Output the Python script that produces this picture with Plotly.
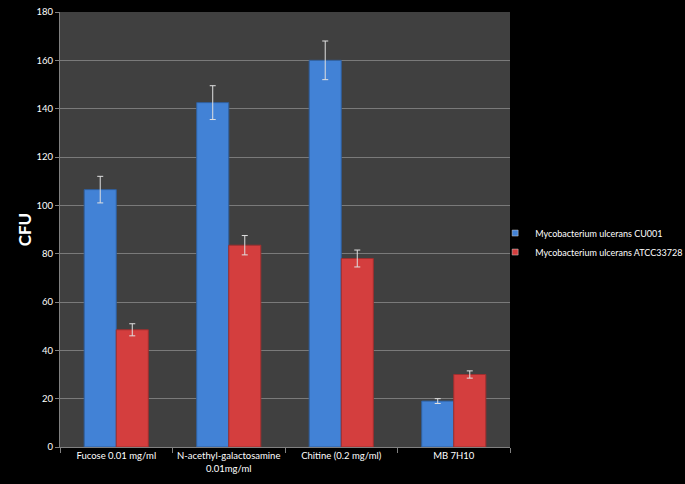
import plotly.graph_objects as go

categories = ["Fucose 0.01 mg/ml", "N-acethyl-galactosamine<br>0.01mg/ml", "Chitine (0.2 mg/ml)", "MB 7H10"]
series_names = ["Mycobacterium ulcerans CU001", "Mycobacterium ulcerans ATCC33728"]
cu001 = [106.5, 142.5, 160, 19]
cu001_err = [5.5, 7, 8, 1]
atcc = [48.5, 83.5, 78, 30]
atcc_err = [2.5, 4, 3.5, 1.5]
yticks = [0, 20, 40, 60, 80, 100, 120, 140, 160, 180]

font = "Lato, Open Sans, sans-serif"
colors = ["#4282d6", "#d43e3e"]
edges = ["#2f5f9e", "#9e2f2f"]

fig = go.Figure()
for name, vals, errs, c, e in zip(series_names, [cu001, atcc], [cu001_err, atcc_err], colors, edges):
    fig.add_trace(go.Bar(
        x=categories, y=vals, name=name, showlegend=False,
        marker=dict(color=c, line=dict(color=e, width=1)),
        error_y=dict(type="data", array=errs, color="#e0e0e0", thickness=1, width=3),
    ))
# legend entries with small square symbols
for name, c in zip(series_names, colors):
    fig.add_trace(go.Scatter(
        x=[None], y=[None], mode="markers", name=name,
        marker=dict(symbol="square", size=6, color=c, line=dict(color="#cccccc", width=0.5)),
    ))

fig.update_layout(
    width=685, height=484,
    paper_bgcolor="black", plot_bgcolor="#404040",
    margin=dict(l=60, r=175, t=12, b=37, autoexpand=False),
    barmode="group", bargap=0.43, bargroupgap=0,
    font=dict(family=font, color="white", size=10),
    showlegend=True,
    legend=dict(x=0.967, y=0.47, xanchor="left", yanchor="middle",
                font=dict(size=9, color="white"), bgcolor="rgba(0,0,0,0)",
                itemwidth=30, tracegroupgap=0),
    xaxis=dict(showgrid=False, ticks="outside", tickson="boundaries", ticklen=5,
               tickcolor="#808080", showline=True, linecolor="#808080",
               tickangle=0, automargin=False,
               tickfont=dict(size=9.5, color="white")),
    yaxis=dict(range=[0, 180], tickvals=yticks, showgrid=True, gridcolor="#7a7a7a",
               gridwidth=1, ticks="outside", ticklen=4, tickcolor="#808080",
               showline=True, linecolor="#808080", zeroline=False, automargin=False,
               tickfont=dict(size=9.5, color="white"),
               title=dict(text="<b>CFU</b>", font=dict(size=17, color="white"), standoff=0)),
)

fig.write_html("out.html", config={"displayModeBar": False},
               post_script="document.body.style.margin='0';")
